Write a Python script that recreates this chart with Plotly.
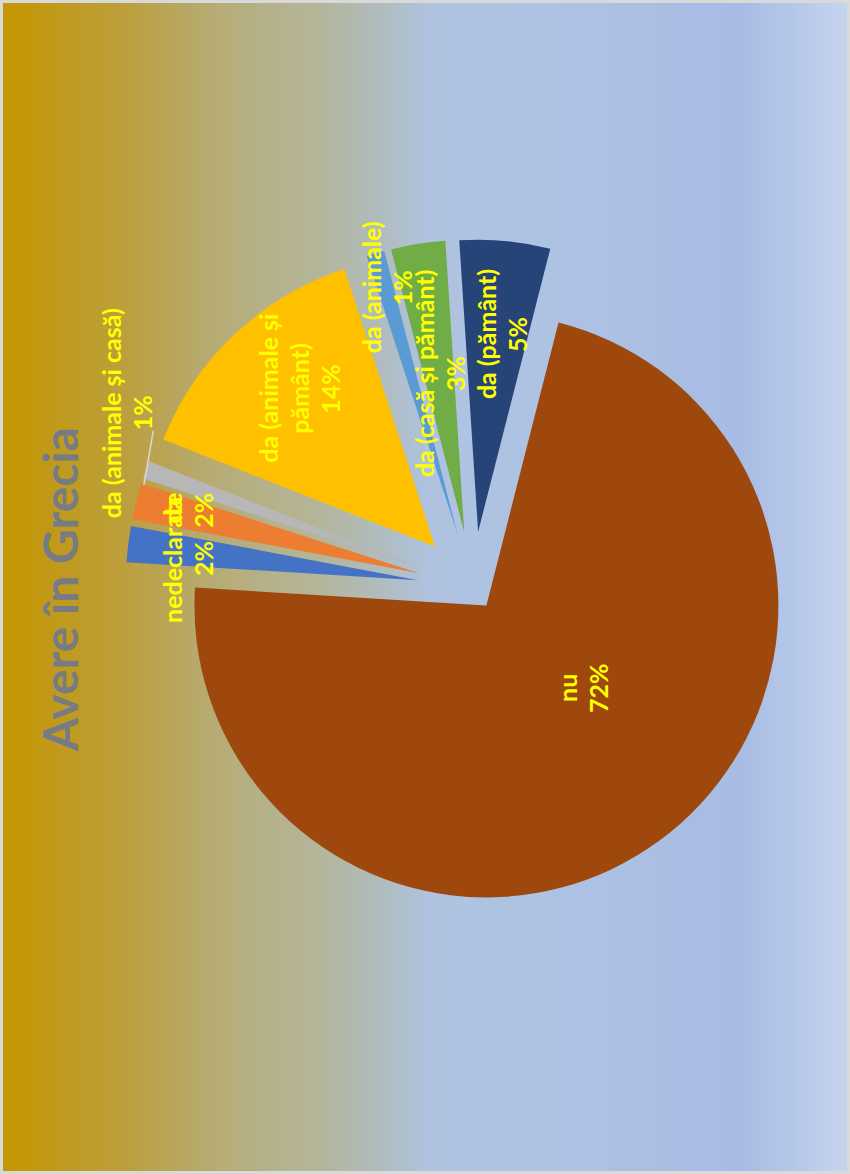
import math, zlib, struct, base64
import plotly.graph_objects as go

# ---------------- data ----------------
categories = ["nedeclarate", "da", "da (animale și casă)", "da (animale și pământ)",
              "da (animale)", "da (casă și pământ)", "da (pământ)", "nu"]
values = [2, 2, 1, 14, 1, 3, 5, 72]
label_wrap = [["nedeclarate"], ["da"], ["da (animale și casă)"], ["da (animale și", "pământ)"],
              ["da (animale)"], ["da (casă și pământ)"], ["da (pământ)"], ["nu"]]
title_text = "Avere în Grecia"

# ---------------- style ----------------
colors = ["#4472C4", "#ED7D31", "#B7B7B7", "#FFC000", "#5B9BD5", "#70AD47", "#264478", "#9E480E"]
pulls = [0.19, 0.19, 0.19, 0.19, 0.19, 0.19, 0.19, 0.078]
# label placement: (fraction of radius from slice vertex, angle offset from slice mid, degrees)
label_place = [(0.78, -1.0), (0.81, 1.6), (1.13, 8.8), (0.71, 3.8),
               (0.88, 1.4), (0.555, 2.0), (0.69, 2.5), (0.44, -15.2)]
W, H = 850, 1174
CX, CY = 473, 587          # pie centre in pixels
R = 292                    # pie radius in pixels
ROT = 273.5                # first slice starts just past 9 o'clock, clockwise
LINE_SP = 31
LABEL_DX, LABEL_DY = -4, 2
LABEL_FONT = dict(family="Lato, 'Open Sans', sans-serif", size=25, color="#FFFF00")

grad_stops = [(0, (196, 150, 0)), (60, (192, 154, 30)), (130, (188, 160, 65)),
              (200, (183, 170, 110)), (260, (181, 177, 135)), (320, (180, 182, 155)),
              (380, (176, 188, 190)), (430, (175, 195, 225)), (600, (173, 193, 228)),
              (740, (167, 187, 228)), (790, (180, 198, 232)), (850, (198, 213, 238))]


def gradient_png(stops, width):
    row = bytearray([0])
    for i in range(width):
        x = i * stops[-1][0] / (width - 1)
        for k in range(len(stops) - 1):
            x0, c0 = stops[k]
            x1, c1 = stops[k + 1]
            if x0 <= x <= x1:
                t = (x - x0) / (x1 - x0) if x1 > x0 else 0
                row += bytes(int(round(c0[j] + (c1[j] - c0[j]) * t)) for j in range(3))
                break
    raw = bytes(row) * 2

    def chunk(tag, data):
        return (struct.pack(">I", len(data)) + tag + data +
                struct.pack(">I", zlib.crc32(tag + data) & 0xffffffff))
    png = (b"\x89PNG\r\n\x1a\n" +
           chunk(b"IHDR", struct.pack(">IIBBBBB", width, 2, 8, 2, 0, 0, 0)) +
           chunk(b"IDAT", zlib.compress(raw)) + chunk(b"IEND", b""))
    return "data:image/png;base64," + base64.b64encode(png).decode()


def d(theta):
    a = math.radians(theta)
    return math.sin(a), -math.cos(a)


def to_paper(px, py):
    return px / W, 1 - py / H


total = sum(values)
maxpull = max(pulls)
half = R * (1 + maxpull)

fig = go.Figure(go.Pie(
    labels=categories, values=values, sort=False, direction="clockwise",
    rotation=ROT, pull=pulls, textinfo="none", hoverinfo="none",
    marker=dict(colors=colors, line=dict(width=0)), showlegend=False,
    domain=dict(x=[(CX - half) / W, (CX + half) / W],
                y=[1 - (CY + half) / H, 1 - (CY - half) / H]),
))

annotations = []
cum = 0
mids, verts = [], []
for i, v in enumerate(values):
    mid = ROT + (cum + v / 2) / total * 360
    cum += v
    dx, dy = d(mid)
    vx, vy = CX + pulls[i] * R * dx, CY + pulls[i] * R * dy
    mids.append(mid)
    verts.append((vx, vy))
    frac, off = label_place[i]
    ex, ey = d(mid + off)
    lx, ly = vx + frac * R * ex + LABEL_DX, vy + frac * R * ey + LABEL_DY
    lines = label_wrap[i] + [f"{round(v / total * 100)}%"]
    n = len(lines)
    for j, t in enumerate(lines):
        px = lx + (j - (n - 1) / 2) * LINE_SP
        x, y = to_paper(px, ly)
        annotations.append(dict(x=x, y=y, xref="paper", yref="paper", text=f"<b>{t}</b>",
                                showarrow=False, textangle=-90, font=LABEL_FONT,
                                xanchor="center", yanchor="middle"))

# title
tx, ty = to_paper(60, 590)
annotations.append(dict(x=tx, y=ty, xref="paper", yref="paper", text=f"<b>{title_text}</b>",
                        showarrow=False, textangle=-90,
                        font=dict(family="Lato, 'Open Sans', sans-serif", size=48, color="#767B84"),
                        xanchor="center", yanchor="middle"))

# leader line for the small grey slice label
gi = 2
gx, gy = verts[gi]
a1 = d(mids[gi] - 3)
a2 = d(mids[gi] + 7.5)
p1 = to_paper(gx + 0.99 * R * a1[0], gy + 0.99 * R * a1[1])
p2 = to_paper(gx + 1.03 * R * a2[0], gy + 1.03 * R * a2[1])
shapes = [dict(type="line", xref="paper", yref="paper", x0=p1[0], y0=p1[1], x1=p2[0], y1=p2[1],
               line=dict(color="#D9D9D9", width=1.5))]

fig.update_layout(
    width=W, height=H, margin=dict(l=0, r=0, t=0, b=0),
    paper_bgcolor="#D9D9D9", plot_bgcolor="rgba(0,0,0,0)",
    images=[dict(source=gradient_png(grad_stops, W), xref="paper", yref="paper",
                 x=3 / W, y=1 - 3 / H, sizex=1 - 6 / W, sizey=1 - 6 / H,
                 xanchor="left", yanchor="top", sizing="stretch", layer="below")],
    annotations=annotations, shapes=shapes,
)

fig.write_html("out.html", config={"displayModeBar": False},
               post_script="document.body.style.margin='0';document.body.style.overflow='hidden';")
